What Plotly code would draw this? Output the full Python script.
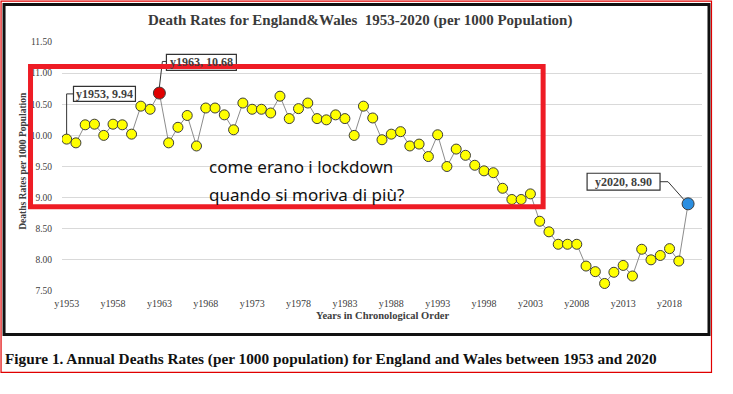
import plotly.graph_objects as go

# ---------------- data ----------------
years = list(range(1953, 2021))
rates = [9.94, 9.88, 10.17, 10.18, 10.00, 10.18, 10.17, 10.02, 10.47, 10.42,
         10.68, 9.88, 10.13, 10.32, 9.83, 10.44, 10.44, 10.33, 10.09, 10.52,
         10.42, 10.42, 10.36, 10.63, 10.27, 10.43, 10.52, 10.27, 10.25, 10.33,
         10.27, 10.00, 10.47, 10.28, 9.93, 10.02, 10.06, 9.83, 9.86, 9.66,
         10.01, 9.50, 9.78, 9.68, 9.52, 9.43, 9.40, 9.15, 8.97, 8.97,
         9.06, 8.62, 8.45, 8.25, 8.25, 8.25, 7.90, 7.81, 7.62, 7.80,
         7.91, 7.74, 8.17, 8.00, 8.07, 8.18, 7.98, 8.90]
tick_years = list(range(1953, 2019, 5))
tick_labels = ["y%d" % y for y in tick_years]
y_ticks = [7.5, 8.0, 8.5, 9.0, 9.5, 10.0, 10.5, 11.0, 11.5]
highlight_max_year = 1963
highlight_last_year = 2020

title_text = "Death Rates for England&Wales  1953-2020 (per 1000 Population)"
ytitle_text = "Deaths Rates per 1000 Population"
xtitle_text = "Years in Chronological Order"
caption_text = "Figure 1. Annual Deaths Rates (per 1000 population) for England and Wales between 1953 and 2020"
overlay_lines = ["come erano i lockdown", "quando si moriva di più?"]

# ---------------- layout geometry ----------------
W, H = 733, 394
L, R, T, B = 61.5, 702.0, 41.5, 291.0
XR = [1952.5, 2021.5]
YR = [7.5, 11.5]

def pxx(X):
    return (X - L) / (R - L)

def pxy(Y):
    return (B - Y) / (B - T)

def d2px(x):
    return L + (x - XR[0]) / (XR[1] - XR[0]) * (R - L)

def d2py(y):
    return B - (y - YR[0]) / (YR[1] - YR[0]) * (B - T)

SERIF = "Liberation Serif, Times New Roman, serif"

i_max = years.index(highlight_max_year)
i_last = years.index(highlight_last_year)
normal_idx = [i for i in range(len(years)) if i not in (i_max, i_last)]

fig = go.Figure()
fig.add_trace(go.Scatter(
    x=years, y=rates, mode="lines",
    line=dict(color="#8c8c8c", width=1), hoverinfo="skip", showlegend=False))
fig.add_trace(go.Scatter(
    x=[years[i] for i in normal_idx], y=[rates[i] for i in normal_idx],
    mode="markers",
    marker=dict(size=10, color="#ffff00", line=dict(color="#3c3c3c", width=1)),
    showlegend=False))
fig.add_trace(go.Scatter(
    x=[years[i_max]], y=[rates[i_max]], mode="markers",
    marker=dict(size=12, color="#e00000", line=dict(color="#3c3c3c", width=1)),
    showlegend=False))
fig.add_trace(go.Scatter(
    x=[years[i_last]], y=[rates[i_last]], mode="markers",
    marker=dict(size=12, color="#2b8ee0", line=dict(color="#3c3c3c", width=1)),
    showlegend=False))

shapes = []
annotations = []

def seg(x0, y0, x1, y1, color="#333333", width=1):
    shapes.append(dict(type="line", xref="paper", yref="paper",
                       x0=pxx(x0), y0=pxy(y0), x1=pxx(x1), y1=pxy(y1),
                       line=dict(color=color, width=width)))

def label_box(x0, y0, x1, y1, text):
    shapes.append(dict(type="rect", xref="paper", yref="paper",
                       x0=pxx(x0), y0=pxy(y0), x1=pxx(x1), y1=pxy(y1),
                       fillcolor="white", line=dict(color="#333333", width=1.2),
                       layer="above"))
    annotations.append(dict(xref="paper", yref="paper",
                            x=pxx((x0 + x1) / 2), y=pxy((y0 + y1) / 2),
                            text="<b>%s</b>" % text, showarrow=False,
                            font=dict(family=SERIF, size=12, color="#404040"),
                            xanchor="center", yanchor="middle"))

# connector + label for first point
p0x, p0y = d2px(years[0]), d2py(rates[0])
seg(p0x, p0y - 5, p0x, 93.5)
seg(p0x, 93.5, 73, 93.5)
label_box(73, 86, 135, 101, "y%d, %.2f" % (years[0], rates[0]))

# connector + label for maximum
pmx, pmy = d2px(years[i_max]), d2py(rates[i_max])
seg(pmx, pmy - 6, pmx + 3, 61)
seg(pmx + 3, 61, 166, 61)
label_box(166, 54, 236, 70, "y%d, %.2f" % (years[i_max], rates[i_max]))

# connector + label for 2020
plx, ply = d2px(years[i_last]), d2py(rates[i_last])
seg(660, 181.5, 668, 181.5)
seg(668, 181.5, plx - 4, ply - 4)
label_box(587, 173, 660, 190, "y%d, %.2f" % (years[i_last], rates[i_last]))

# thick red overlay rectangle
shapes.append(dict(type="rect", xref="paper", yref="paper",
                   x0=pxx(30), y0=pxy(66), x1=pxx(543), y1=pxy(206.5),
                   line=dict(color="#ee1c25", width=5), layer="above"))

# black chart frame
shapes.append(dict(type="rect", xref="paper", yref="paper",
                   x0=pxx(3.5), y0=pxy(4), x1=pxx(709), y1=pxy(334.5),
                   line=dict(color="#111111", width=3), layer="above"))
# thin outer red frame
shapes.append(dict(type="rect", xref="paper", yref="paper",
                   x0=pxx(0.5), y0=pxy(0.5), x1=pxx(711.5), y1=pxy(372.5),
                   line=dict(color="#e00000", width=1.2), layer="above"))

# texts
annotations.append(dict(xref="paper", yref="paper", x=pxx(360), y=pxy(20),
                        text="<b>%s</b>" % title_text, showarrow=False,
                        font=dict(family=SERIF, size=15, color="#3a3a3a"),
                        xanchor="center", yanchor="middle"))
annotations.append(dict(xref="paper", yref="paper", x=pxx(23), y=pxy(161),
                        text="<b>%s</b>" % ytitle_text, showarrow=False, textangle=-90,
                        font=dict(family=SERIF, size=9.5, color="#404040"),
                        xanchor="center", yanchor="middle"))
annotations.append(dict(xref="paper", yref="paper", x=pxx(382), y=pxy(316),
                        text="<b>%s</b>" % xtitle_text, showarrow=False,
                        font=dict(family=SERIF, size=10.5, color="#404040"),
                        xanchor="center", yanchor="middle"))
annotations.append(dict(xref="paper", yref="paper", x=pxx(2), y=pxy(359),
                        text="<b>%s</b>" % caption_text, showarrow=False,
                        font=dict(family=SERIF, size=15.3, color="#111111"),
                        xanchor="left", yanchor="middle"))
annotations.append(dict(xref="paper", yref="paper", x=pxx(207), y=pxy(166),
                        text=overlay_lines[0], showarrow=False,
                        font=dict(family="Noto Sans, sans-serif", size=17, color="#111111"),
                        xanchor="left", yanchor="middle"))
annotations.append(dict(xref="paper", yref="paper", x=pxx(207), y=pxy(194),
                        text=overlay_lines[1], showarrow=False,
                        font=dict(family="Noto Sans, sans-serif", size=17, color="#111111"),
                        xanchor="left", yanchor="middle"))

fig.update_layout(
    width=W, height=H,
    margin=dict(l=L, r=W - R, t=T, b=H - B, pad=0),
    paper_bgcolor="white", plot_bgcolor="white",
    showlegend=False,
    shapes=shapes, annotations=annotations,
    xaxis=dict(range=XR, tickmode="array", tickvals=tick_years, ticktext=tick_labels,
               showgrid=False, zeroline=False, showline=False, ticks="",
               ticklabelstandoff=5,
               tickfont=dict(family=SERIF, size=10, color="#404040")),
    yaxis=dict(range=[YR[0] - 0.001, YR[1] + 0.001], tickmode="array", tickvals=y_ticks,
               tickformat=".2f", showgrid=True, gridcolor="#d9d9d9", gridwidth=1,
               zeroline=False, showline=False, ticks="", ticklabelstandoff=9,
               tickfont=dict(family=SERIF, size=9.5, color="#404040")),
)

fig.write_html("out.html", config={"displayModeBar": False},
               post_script="document.body.style.margin='0';")
